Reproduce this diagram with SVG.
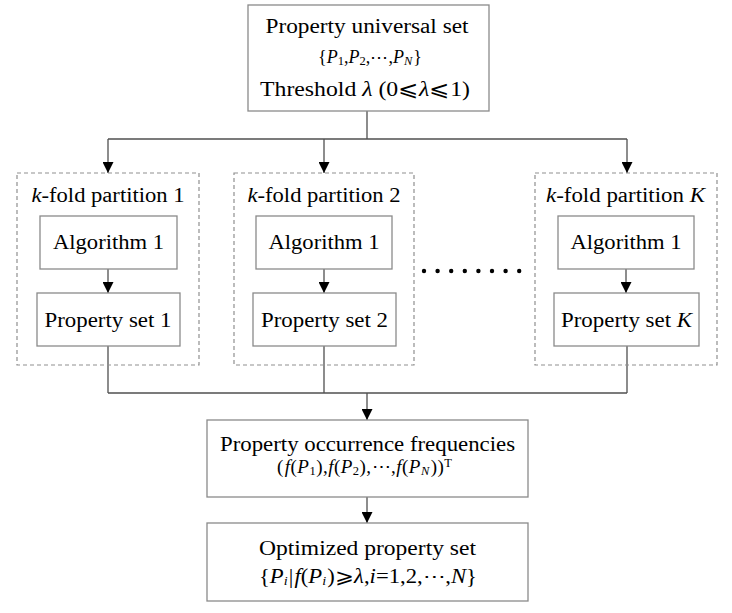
<svg xmlns="http://www.w3.org/2000/svg" width="732" height="613" viewBox="0 0 732 613">
<defs>
<style>
.box{fill:#fff;stroke:#8a8a8a;stroke-width:1.3}
.dash{fill:none;stroke:#8f8f8f;stroke-width:1.2;stroke-dasharray:4 3}
.ln{fill:none;stroke:#505050;stroke-width:1.3}
text{font-family:"Liberation Serif","DejaVu Serif",serif;fill:#000;text-anchor:middle}
.t{font-size:20.5px}
.m{font-size:19px}
.m2{font-size:18px}
.m3{font-size:20px}
.i{font-style:italic}
.s{font-size:12.5px}
</style>
<marker id="ah" viewBox="0 0 11 11" refX="11" refY="5.5" markerWidth="11" markerHeight="11" markerUnits="userSpaceOnUse" orient="auto">
<path d="M0,0 L11,5.5 L0,11 z" fill="#000"/>
</marker>
</defs>
<rect width="732" height="613" fill="#fff"/>

<g id="connectors">
<path class="ln" d="M367,111 V139 M108,139 H627"/>
<path class="ln" d="M108,139 V173" marker-end="url(#ah)"/>
<path class="ln" d="M324,139 V173" marker-end="url(#ah)"/>
<path class="ln" d="M627,139 V173" marker-end="url(#ah)"/>
<path class="ln" d="M108,269 V293" marker-end="url(#ah)"/>
<path class="ln" d="M324,269 V293" marker-end="url(#ah)"/>
<path class="ln" d="M626,269 V293" marker-end="url(#ah)"/>
<path class="ln" d="M108,346 V393 M324,346 V393 M627,346 V393 M108,393 H627"/>
<path class="ln" d="M367,393 V420" marker-end="url(#ah)"/>
<path class="ln" d="M367,497 V523" marker-end="url(#ah)"/>
</g>

<g id="universal-set">
<rect class="box" x="248" y="5" width="241" height="106"/>
<text class="t" x="367" y="33" textLength="203" lengthAdjust="spacingAndGlyphs">Property universal set</text>
<text class="m2" x="370" y="63" textLength="104" lengthAdjust="spacing">{<tspan class="i">P</tspan><tspan class="s" dy="2">1</tspan><tspan dy="-2">,</tspan><tspan class="i">P</tspan><tspan class="s" dy="2">2</tspan><tspan dy="-2">,⋯,</tspan><tspan class="i">P</tspan><tspan class="s i" dy="2">N</tspan><tspan dy="-2" dx="1">}</tspan></text>
<text class="t" x="365" y="96" textLength="210" lengthAdjust="spacingAndGlyphs">Threshold <tspan class="i">λ</tspan> (0⩽<tspan class="i">λ</tspan>⩽1)</text>
</g>

<g id="partition-1">
<rect class="dash" x="17" y="173" width="182" height="192"/>
<text class="t" x="108" y="202" textLength="153" lengthAdjust="spacingAndGlyphs"><tspan class="i">k</tspan>-fold partition 1</text>
</g>
<g id="algorithm-1a">
<rect class="box" x="40" y="216" width="137" height="53"/>
<text class="t" x="108.5" y="249" textLength="111" lengthAdjust="spacingAndGlyphs">Algorithm 1</text>
</g>
<g id="property-set-1">
<rect class="box" x="37" y="293" width="143" height="53"/>
<text class="t" x="108" y="327" textLength="127" lengthAdjust="spacingAndGlyphs">Property set 1</text>
</g>

<g id="partition-2">
<rect class="dash" x="234" y="173" width="180" height="192"/>
<text class="t" x="324" y="202" textLength="153" lengthAdjust="spacingAndGlyphs"><tspan class="i">k</tspan>-fold partition 2</text>
</g>
<g id="algorithm-1b">
<rect class="box" x="256" y="216" width="136" height="53"/>
<text class="t" x="324" y="249" textLength="111" lengthAdjust="spacingAndGlyphs">Algorithm 1</text>
</g>
<g id="property-set-2">
<rect class="box" x="253" y="293" width="143" height="53"/>
<text class="t" x="324.5" y="327" textLength="127" lengthAdjust="spacingAndGlyphs">Property set 2</text>
</g>

<g id="ellipsis">
<g fill="#000">
<circle cx="424" cy="271" r="2.2"/><circle cx="437.6" cy="271" r="2.2"/><circle cx="451.2" cy="271" r="2.2"/><circle cx="464.8" cy="271" r="2.2"/>
<circle cx="478.4" cy="271" r="2.2"/><circle cx="492" cy="271" r="2.2"/><circle cx="505.6" cy="271" r="2.2"/><circle cx="519.2" cy="271" r="2.2"/>
</g>
</g>

<g id="partition-K">
<rect class="dash" x="535" y="173" width="182" height="192"/>
<text class="t" x="625.5" y="202" textLength="159" lengthAdjust="spacingAndGlyphs"><tspan class="i">k</tspan>-fold partition <tspan class="i">K</tspan></text>
</g>
<g id="algorithm-1K">
<rect class="box" x="558" y="216" width="136" height="53"/>
<text class="t" x="626" y="249" textLength="111" lengthAdjust="spacingAndGlyphs">Algorithm 1</text>
</g>
<g id="property-set-K">
<rect class="box" x="554" y="293" width="145" height="53"/>
<text class="t" x="626.5" y="327" textLength="131" lengthAdjust="spacingAndGlyphs">Property set <tspan class="i">K</tspan></text>
</g>

<g id="frequencies">
<rect class="box" x="207" y="420" width="321" height="77"/>
<text class="t" x="367.5" y="451" textLength="295" lengthAdjust="spacingAndGlyphs">Property occurrence frequencies</text>
<text class="m" x="364.5" y="473" textLength="175" lengthAdjust="spacing">(<tspan class="i" dx="1">f</tspan>(<tspan class="i">P</tspan><tspan class="s" dy="2">1</tspan><tspan dy="-2">),</tspan><tspan class="i">f</tspan>(<tspan class="i">P</tspan><tspan class="s" dy="2">2</tspan><tspan dy="-2">),⋯,</tspan><tspan class="i">f</tspan>(<tspan class="i">P</tspan><tspan class="s i" dy="2">N</tspan><tspan dy="-2" dx="1">))</tspan><tspan class="s" dy="-6">T</tspan></text>
</g>

<g id="optimized-set">
<rect class="box" x="207" y="523" width="321" height="78"/>
<text class="t" x="367.5" y="555" textLength="217" lengthAdjust="spacingAndGlyphs">Optimized property set</text>
<text class="m3" x="368" y="583" textLength="218" lengthAdjust="spacingAndGlyphs">{<tspan class="i">P</tspan><tspan class="s i" dy="2">i</tspan><tspan dy="-2" dx="1">|</tspan><tspan class="i" dx="1">f</tspan>(<tspan class="i">P</tspan><tspan class="s i" dy="2">i</tspan><tspan dy="-2" dx="1">)⩾</tspan><tspan class="i">λ</tspan>,<tspan class="i">i</tspan>=1,2,⋯,<tspan class="i">N</tspan>}</text>
</g>
</svg>
